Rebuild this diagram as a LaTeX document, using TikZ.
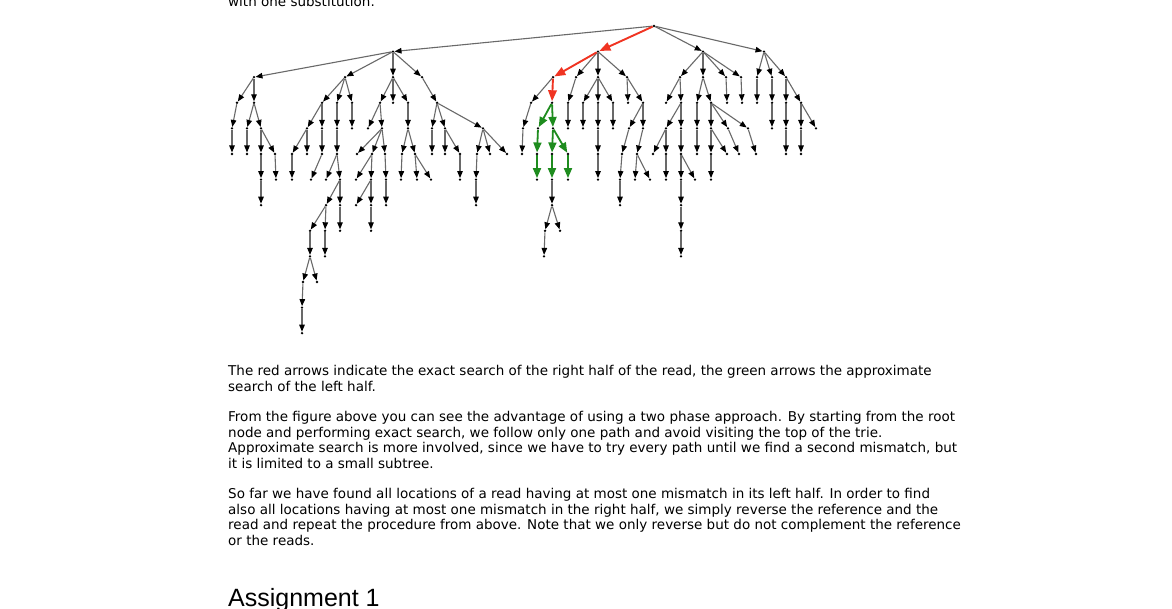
\documentclass[tikz,border=0pt]{standalone}
\usepackage{fontspec}
\setmainfont{DejaVu Sans}
\newfontfamily\headfont{Liberation Sans}
\usetikzlibrary{arrows.meta}
\definecolor{linkgray}{RGB}{105,105,105}
\definecolor{hitred}{RGB}{240,52,34}
\definecolor{hitgreen}{RGB}{30,140,30}

\begin{document}
\begin{tikzpicture}[
  x=1pt, y=-1pt,
  trienode/.style={circle, fill=black, inner sep=0pt, minimum size=2.6pt},
  link/.style={draw=linkgray, line width=1.1pt, -{Triangle[length=7pt, width=5.5pt, black]}},
  exactlink/.style={draw=hitred, line width=1.9pt, -{Triangle[length=11pt, width=8.5pt]}},
  approxlink/.style={draw=hitgreen, line width=1.8pt, -{Triangle[length=10pt, width=8pt]}},
  para/.style={anchor=base west, inner sep=0pt, font=\fontsize{13.5}{16}\selectfont},
  head/.style={anchor=base west, inner sep=0pt, font=\headfont\fontsize{25}{29}\selectfont}
]
\useasboundingbox (0,0) rectangle (1172,609);
\fill[white] (0,0) rectangle (1172,609);

% trie nodes, one list per depth
\foreach \l/\xs in {
  0/{654},
  1/{393,598,703,764},
  2/{254,345,393,422,553,576,598,627,680,703,726,741,757,772,786},
  3/{237,254,322,337,352,380,393,408,437,531,552,568,583,598,613,628,643,666,681,697,711,727,742,757,772,786,801},
  4/{232,247,261,307,322,337,352,368,382,408,432,445,483,523,538,553,568,583,598,613,629,643,666,681,697,711,728,748,772,786,801,816},
  5/{232,247,261,275,292,307,322,337,357,372,385,402,415,432,445,460,477,490,507,522,537,552,568,598,622,637,653,666,681,697,711,727,739,756,786,801},
  6/{261,276,292,311,326,340,356,371,386,401,417,431,460,476,537,552,568,598,620,635,650,666,681,695,711},
  7/{261,326,340,356,371,386,476,552,620,681},
  8/{310,325,340,371,545,560,681},
  9/{310,325,544,681},
  10/{303,317},
  11/{302},
  12/{302}}
  \foreach \x in \xs \node[trienode] (n\x-\l) at (\x, {26+25.6*\l}) {};

% plain edges
\foreach \a/\b in {
  654-0/393-1, 654-0/703-1, 654-0/764-1,
  393-1/254-2, 393-1/345-2, 393-1/393-2, 393-1/422-2, 598-1/576-2, 598-1/598-2, 598-1/627-2,
  703-1/680-2, 703-1/703-2, 703-1/726-2, 703-1/741-2, 764-1/757-2, 764-1/772-2, 764-1/786-2,
  254-2/237-3, 254-2/254-3, 345-2/322-3, 345-2/337-3, 345-2/352-3, 393-2/380-3, 393-2/393-3,
  393-2/408-3, 422-2/437-3, 553-2/531-3, 576-2/568-3, 598-2/583-3, 598-2/598-3, 598-2/613-3,
  627-2/628-3, 627-2/643-3, 680-2/666-3, 680-2/681-3, 703-2/697-3, 703-2/711-3, 726-2/727-3,
  741-2/742-3, 757-2/757-3, 772-2/772-3, 786-2/786-3, 786-2/801-3,
  237-3/232-4, 254-3/247-4, 254-3/261-4, 322-3/307-4, 322-3/322-4, 337-3/337-4, 352-3/352-4,
  380-3/368-4, 380-3/382-4, 408-3/408-4, 437-3/432-4, 437-3/445-4, 437-3/483-4, 531-3/523-4,
  568-3/568-4, 583-3/583-4, 598-3/598-4, 613-3/613-4, 643-3/629-4, 643-3/643-4, 681-3/666-4,
  681-3/681-4, 697-3/697-4, 711-3/711-4, 711-3/728-4, 711-3/748-4, 772-3/772-4, 786-3/786-4,
  801-3/801-4, 801-3/816-4,
  232-4/232-5, 247-4/247-5, 261-4/261-5, 261-4/275-5, 307-4/292-5, 307-4/307-5, 322-4/322-5,
  337-4/337-5, 382-4/357-5, 382-4/372-5, 382-4/385-5, 408-4/402-5, 408-4/415-5, 432-4/432-5,
  445-4/445-5, 445-4/460-5, 483-4/477-5, 483-4/490-5, 483-4/507-5, 523-4/522-5, 598-4/598-5,
  629-4/622-5, 643-4/637-5, 666-4/653-5, 666-4/666-5, 681-4/681-5, 697-4/697-5, 711-4/711-5,
  711-4/727-5, 728-4/739-5, 748-4/756-5, 786-4/786-5, 801-4/801-5,
  261-5/261-6, 275-5/276-6, 292-5/292-6, 322-5/311-6, 337-5/326-6, 337-5/340-6, 372-5/356-6,
  372-5/371-6, 385-5/386-6, 402-5/401-6, 415-5/417-6, 415-5/431-6, 460-5/460-6, 477-5/476-6,
  598-5/598-6, 622-5/620-6, 637-5/635-6, 637-5/650-6, 666-5/666-6, 681-5/681-6, 681-5/695-6,
  711-5/711-6,
  261-6/261-7, 340-6/326-7, 340-6/340-7, 371-6/356-7, 371-6/371-7, 386-6/386-7, 476-6/476-7,
  552-6/552-7, 620-6/620-7, 681-6/681-7,
  326-7/310-8, 326-7/325-8, 340-7/340-8, 371-7/371-8, 552-7/545-8, 552-7/560-8, 681-7/681-8,
  310-8/310-9, 325-8/325-9, 545-8/544-9, 681-8/681-9,
  310-9/303-10, 310-9/317-10, 303-10/302-11, 302-11/302-12}
  \draw[link] (n\a) -- (n\b);

% exact search (right half)
\foreach \a/\b in {654-0/598-1, 598-1/553-2, 553-2/552-3}
  \draw[exactlink] (n\a) -- (n\b);

% approximate search (left half)
\foreach \a/\b in {552-3/538-4, 552-3/553-4, 538-4/537-5, 553-4/552-5, 553-4/568-5,
                   537-5/537-6, 552-5/552-6, 568-5/568-6}
  \draw[approxlink] (n\a) -- (n\b);

% text of the page
\node[para] (prev) at (228,7) {with one substitution.};
\node[para] (p1a) at (228,375) {The red arrows indicate the exact search of the right half of the read, the green arrows the approximate};
\node[para] (p1b) at (228,391) {search of the left half.};
\node[para] (p2a) at (228,421) {From the figure above you can see the advantage of using a two phase approach. By starting from the root};
\node[para] (p2b) at (228,437) {node and performing exact search, we follow only one path and avoid visiting the top of the trie.};
\node[para] (p2c) at (228,452) {Approximate search is more involved, since we have to try every path until we find a second mismatch, but};
\node[para] (p2d) at (228,468) {it is limited to a small subtree.};
\node[para] (p3a) at (228,498) {So far we have found all locations of a read having at most one mismatch in its left half. In order to find};
\node[para] (p3b) at (228,514) {also all locations having at most one mismatch in the right half, we simply reverse the reference and the};
\node[para] (p3c) at (228,529) {read and repeat the procedure from above. Note that we only reverse but do not complement the reference};
\node[para] (p3d) at (228,545) {or the reads.};
\node[head] (assign) at (228,606) {Assignment 1};
\end{tikzpicture}
\end{document}
